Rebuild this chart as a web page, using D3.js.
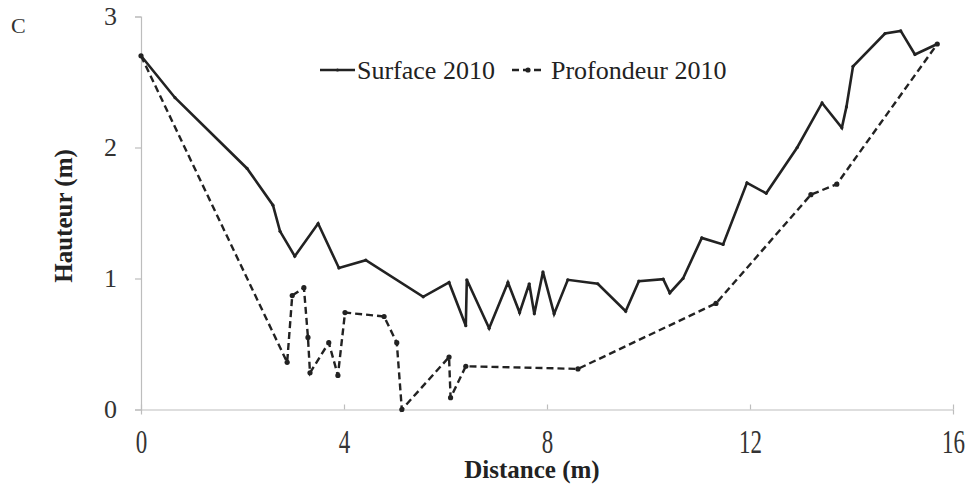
<!DOCTYPE html>
<html><head><meta charset="utf-8">
<script src="https://cdn.jsdelivr.net/npm/d3@7"></script>
<style>body{margin:0;background:#fff}svg{display:block}text{font-family:"Liberation Serif","Times New Roman",serif}</style>
</head><body>
<svg id="c" width="971" height="493"></svg>
<script>
const surfaceX = [0,0.67,2.09,2.6,2.74,3.03,3.49,3.9,4.43,5.56,6.07,6.4,6.42,6.86,7.23,7.46,7.65,7.75,7.92,8.14,8.41,9.0,9.55,9.81,10.29,10.42,10.68,11.05,11.47,11.94,12.32,12.93,13.42,13.81,13.9,14.03,14.66,14.97,15.25,15.69];
const surfaceY = [2.70,2.38,1.84,1.56,1.36,1.17,1.42,1.08,1.14,0.86,0.97,0.64,0.99,0.62,0.97,0.74,0.96,0.73,1.05,0.73,0.99,0.96,0.75,0.98,0.995,0.89,1.0,1.31,1.26,1.73,1.65,2.0,2.34,2.15,2.31,2.62,2.87,2.89,2.71,2.79];
const deepX = [0,2.88,2.98,3.21,3.29,3.33,3.7,3.88,4.02,4.79,5.04,5.14,6.07,6.1,6.4,8.61,11.33,13.2,13.71,15.69];
const deepY = [2.70,0.36,0.87,0.93,0.55,0.28,0.51,0.26,0.74,0.71,0.51,0.0,0.40,0.09,0.33,0.31,0.81,1.64,1.72,2.79];
const xTicks = [0,4,8,12,16];
const yTicks = [0,1,2,3];
const seriesNames = ["Surface 2010","Profondeur 2010"];

const svg = d3.select("#c");
const x = d3.scaleLinear().domain([0,16]).range([141,953]);
const y = d3.scaleLinear().domain([0,3]).range([409.5,16.5]);
const axisCol = "#bdbdbd", ink = "#222";

// axes
const gx = svg.append("g").attr("transform","translate(0,409.5)")
  .call(d3.axisBottom(x).tickValues(xTicks).tickSize(5).tickPadding(14).tickFormat(d3.format("d")));
const gy = svg.append("g").attr("transform","translate(141,0)")
  .call(d3.axisLeft(y).tickValues(yTicks).tickSize(6).tickPadding(18).tickFormat(d3.format("d")));
[gx,gy].forEach(g=>{
  g.select(".domain").attr("stroke",axisCol).attr("stroke-width",1.2);
  g.selectAll(".tick line").attr("stroke",axisCol).attr("stroke-width",1.2);
  g.selectAll(".tick text").attr("fill","#333").style("font-size","26px").style("font-family","'Liberation Serif',serif");
});
gx.selectAll(".tick line").attr("y1",-5).attr("y2",0);
gx.selectAll(".tick text").attr("y",0).attr("dy",null).style("font-size","23px")
  .attr("transform","translate(0,43) scale(1,1.45)");

const line = d3.line().x(d=>x(d[0])).y(d=>y(d[1]));
const sData = surfaceX.map((v,i)=>[v,surfaceY[i]]);
const dData = deepX.map((v,i)=>[v,deepY[i]]);

svg.append("path").datum(dData).attr("d",line).attr("fill","none").attr("stroke",ink)
  .attr("stroke-width",2.4).attr("stroke-dasharray","7,4");
svg.append("g").selectAll("circle").data(dData).join("circle")
  .attr("cx",d=>x(d[0])).attr("cy",d=>y(d[1])).attr("r",2.6).attr("fill",ink);

svg.append("path").datum(sData).attr("d",line).attr("fill","none").attr("stroke",ink)
  .attr("stroke-width",2.6).attr("stroke-linejoin","miter");
svg.append("g").selectAll("circle").data(sData).join("circle")
  .attr("cx",d=>x(d[0])).attr("cy",d=>y(d[1])).attr("r",1.6).attr("fill",ink);

// legend
const lg = svg.append("g");
lg.append("line").attr("x1",320).attr("x2",355).attr("y1",70).attr("y2",70).attr("stroke",ink).attr("stroke-width",2.6);
lg.append("circle").attr("cx",337.5).attr("cy",70).attr("r",1.6).attr("fill",ink);
lg.append("text").attr("x",357).attr("y",79).text(seriesNames[0]).attr("fill","#222").style("font-size","26px");
lg.append("line").attr("x1",512).attr("x2",544).attr("y1",70).attr("y2",70).attr("stroke",ink).attr("stroke-width",2.4).attr("stroke-dasharray","7,4");
lg.append("circle").attr("cx",528).attr("cy",70).attr("r",2.6).attr("fill",ink);
lg.append("text").attr("x",551).attr("y",79).text(seriesNames[1]).attr("fill","#222").style("font-size","26px");

// labels
svg.append("text").attr("x",11).attr("y",33).text("C").attr("fill","#333").style("font-size","22px");
svg.append("text").attr("transform","translate(72,216) rotate(-90)").attr("text-anchor","middle")
  .text("Hauteur (m)").attr("fill","#222").style("font-size","25px").style("font-weight","bold");
svg.append("text").attr("x",532).attr("y",478).attr("text-anchor","middle")
  .text("Distance (m)").attr("fill","#222").style("font-size","25px").style("font-weight","bold");
</script>
</body></html>
